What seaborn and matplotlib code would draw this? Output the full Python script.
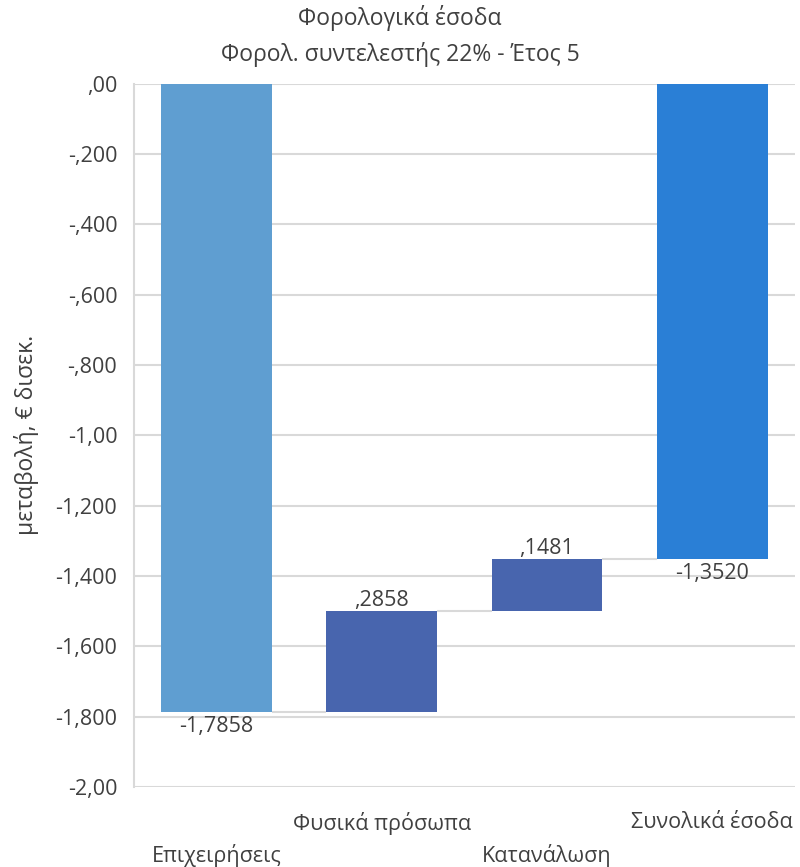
import seaborn as sns
from matplotlib import pyplot as plt
import numpy as np

categories = ["Επιχειρήσεις", "Φυσικά πρόσωπα", "Κατανάλωση", "Συνολικά έσοδα"]
changes = [-1.7858, 0.2858, 0.1481, -1.3520]
is_total = [False, False, False, True]
bar_colors = ["#5F9ED1", "#4865AE", "#4865AE", "#2A7FD6"]
ytick_values = [0.0, -0.2, -0.4, -0.6, -0.8, -1.0, -1.2, -1.4, -1.6, -1.8, -2.0]
ytick_labels = [",00", "-,200", "-,400", "-,600", "-,800", "-1,00",
                "-1,200", "-1,400", "-1,600", "-1,800", "-2,00"]

TEXT = "#404040"
GRID = "#D9D9D9"
FS = 15.5


def fmt(v):
    s = f"{v:.4f}".replace(".", ",")
    return s.replace("0,", ",", 1) if s.startswith(("0,", "-0,")) else s


# waterfall: running bottoms, totals start from zero
bottoms = []
running = 0.0
for v, tot in zip(changes, is_total):
    if tot:
        bottoms.append(0.0)
    else:
        bottoms.append(running)
        running += v
tops = [b + v for b, v in zip(bottoms, changes)]

sns.set_style("white")
plt.rcParams["font.family"] = ["Open Sans", "DejaVu Sans"]

fig = plt.figure(figsize=(8, 8.67), dpi=100)
ax = fig.add_axes([0.1675, 0.0923, 0.826, 0.811])

width = 0.67
sns.barplot(x=categories, y=changes, bottom=bottoms, width=width,
            color=bar_colors[0], saturation=1, errorbar=None, ax=ax, zorder=3)
for patch, c in zip(ax.patches, bar_colors):
    patch.set_facecolor(c)
    patch.set_edgecolor("none")

# connectors between bars
for i in range(len(categories) - 1):
    ax.hlines(tops[i], i + width / 2, i + 1 - width / 2, color=GRID,
              lw=1.5, zorder=2)

# value labels
for i, (b, v) in enumerate(zip(bottoms, changes)):
    end = b + v
    if v < 0:
        ax.annotate(fmt(v), (i, end), xytext=(0, -3), textcoords="offset points",
                    ha="center", va="top", fontsize=FS, color=TEXT)
    else:
        ax.annotate(fmt(v), (i, end), xytext=(0, 0), textcoords="offset points",
                    ha="center", va="bottom", fontsize=FS, color=TEXT)

ax.set_ylim(-2.0, 0.0)
ax.set_xlim(-0.5, len(categories) - 0.5)
ax.set_yticks(ytick_values)
ax.set_yticklabels(ytick_labels)
ax.yaxis.grid(True, color=GRID, lw=1.5, zorder=0)
ax.set_axisbelow(True)
for side in ["top", "right", "bottom"]:
    ax.spines[side].set_visible(False)
ax.spines["left"].set_color(GRID)
ax.spines["left"].set_linewidth(1.5)
ax.tick_params(axis="y", length=0, pad=12, labelsize=FS, labelcolor=TEXT)
ax.tick_params(axis="x", length=0, pad=18, labelsize=FS, labelcolor=TEXT)
for i, lbl in enumerate(ax.get_xticklabels()):
    if i % 2 == 0:
        lbl.set_y(-0.045)

ax.set_ylabel("μεταβολή, € δισεκ.", fontsize=16.5, color=TEXT, labelpad=12)
fig.suptitle("Φορολογικά έσοδα\nΦορολ. συντελεστής 22% - Έτος 5",
             x=0.5, y=0.994, fontsize=16.5, color=TEXT, linespacing=1.55)

fig.savefig("out.png", dpi=100)
